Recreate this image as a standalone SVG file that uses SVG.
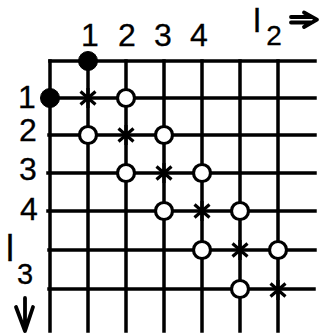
<svg xmlns="http://www.w3.org/2000/svg" width="323" height="336" viewBox="0 0 323 336">
<style>
.g{stroke:#000;stroke-width:3.5;fill:none;stroke-linecap:square}
.o{fill:#fff;stroke:#000;stroke-width:3.2}
.f{fill:#000;stroke:#000;stroke-width:1}
.s{stroke:#000;stroke-width:3.2;fill:none}
.t{font-family:"Liberation Sans",Arial,sans-serif;font-size:32px;fill:#000;stroke:#000;stroke-width:0.3}
.a{stroke:#000;stroke-width:3.8;fill:none;stroke-linecap:round;stroke-linejoin:round}
</style>
<defs>
<g id="star"><path class="s" d="M0,-10V10M-7.5,-6.5L7.5,6.5M-7.5,6.5L7.5,-6.5"/></g>
</defs>
<g id="connectors">
<path class="g" d="M50,61H315M50,98H315M49,135H315M48,173H315M48,211H315M49,250H315M49,289H314"/>
<path class="g" d="M50,61V331M88,61V331M126,61V331M164,61V331M202,61V331M240,61V331M278,61V331"/>
</g>
<g id="filled">
<circle class="f" cx="88" cy="61" r="9.5"/>
<circle class="f" cx="50" cy="98" r="9.5"/>
</g>
<g id="stars">
<use href="#star" x="88" y="98"/>
<use href="#star" x="126" y="135"/>
<use href="#star" x="164" y="173"/>
<use href="#star" x="202" y="211"/>
<use href="#star" x="240" y="250"/>
<use href="#star" x="278" y="290"/>
</g>
<g id="open">
<circle class="o" cx="126" cy="98" r="8.5"/>
<circle class="o" cx="88" cy="135" r="8.5"/>
<circle class="o" cx="164" cy="135" r="8.5"/>
<circle class="o" cx="126" cy="173" r="8.5"/>
<circle class="o" cx="202" cy="173" r="8.5"/>
<circle class="o" cx="164" cy="211" r="8.5"/>
<circle class="o" cx="240" cy="211" r="8.5"/>
<circle class="o" cx="202" cy="250" r="8.5"/>
<circle class="o" cx="278" cy="250" r="8.5"/>
<circle class="o" cx="240" cy="289" r="8.5"/>
</g>
<g id="labels" text-anchor="middle">
<text class="t" x="90" y="46">1</text>
<text class="t" x="127" y="46">2</text>
<text class="t" x="163" y="46">3</text>
<text class="t" x="199" y="46">4</text>
<text class="t" x="27" y="108">1</text>
<text class="t" x="28" y="141">2</text>
<text class="t" x="28" y="180">3</text>
<text class="t" x="29" y="220">4</text>
</g>
<g id="l2">
<text class="t" x="257" y="32" text-anchor="middle" style="font-size:34px">l</text>
<text class="t" x="274" y="45" text-anchor="middle" style="font-size:28px">2</text>
<path class="a" d="M291,17H312M291,22.5H312M304,12.5L317,19.7L304,27"/>
</g>
<g id="l3">
<text class="t" x="10" y="261" text-anchor="middle" style="font-size:36px">l</text>
<text class="t" x="25" y="284" text-anchor="middle" style="font-size:29px">3</text>
<path class="a" d="M25,298V331M16,307L25,331L33,307"/>
</g>
</svg>
